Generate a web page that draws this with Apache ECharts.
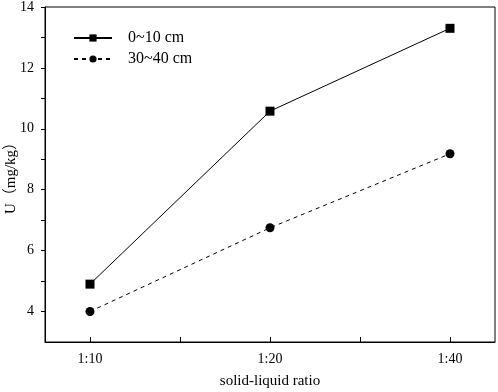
<!DOCTYPE html>
<html>
<head>
<meta charset="utf-8">
<script src="https://cdn.jsdelivr.net/npm/echarts@6/dist/echarts.min.js"></script>
<style>
  html, body { margin: 0; padding: 0; background: #fff; }
  #chart { width: 498px; height: 392px; }
</style>
</head>
<body>
<div id="chart"></div>
<script>
// solid-liquid ratios, plotted at positions 1, 2, 3
const ratios = ['1:10', '1:20', '1:40'];
const seriesNames = ['0~10 cm', '30~40 cm'];
const uShallow = [4.9, 10.58, 13.3];
const uDeep = [4.0, 6.75, 9.18];
const yTickLabels = [4, 6, 8, 10, 12, 14];

const serif = '"Liberation Serif", "Times New Roman", "Noto Sans CJK SC", serif';

const toPoints = (vals) => vals.map((v, i) => [i + 1, v]);

const myChart = echarts.init(document.getElementById('chart'));

const option = {
  animation: false,
  textStyle: { fontFamily: serif, color: '#000' },
  grid: {
    left: 45,
    right: 3,
    top: 7,
    bottom: 50,
    outerBoundsMode: 'none',
    containLabel: false,
    show: true,
    borderColor: '#000',
    borderWidth: 1,
  },
  legend: {
    orient: 'vertical',
    left: 68,
    top: 25,
    itemWidth: 38,
    itemHeight: 9,
    itemGap: 5,
    textStyle: { fontFamily: serif, fontSize: 16, color: '#000', padding: [0, 0, 0, 11] },
    data: seriesNames,
  },
  xAxis: {
    type: 'value',
    min: 0.75,
    max: 3.25,
    name: 'solid-liquid ratio',
    nameLocation: 'middle',
    nameGap: 32,
    nameMoveOverlap: false,
    nameTextStyle: { fontFamily: serif, fontSize: 15, color: '#000' },
    splitLine: { show: false },
    axisLine: { lineStyle: { color: '#000', width: 1 } },
    axisTick: {
      inside: true,
      length: 5,
      customValues: [1, 1.5, 2, 2.5, 3],
      lineStyle: { color: '#000' },
    },
    axisLabel: {
      customValues: [1, 2, 3],
      formatter: (v) => ratios[Math.round(v) - 1],
      fontFamily: serif,
      fontSize: 14,
      color: '#000',
      margin: 10,
    },
  },
  yAxis: {
    type: 'value',
    min: 3,
    max: 14,
    name: 'U（mg/kg）',
    nameLocation: 'middle',
    nameGap: 26,
    nameMoveOverlap: false,
    nameTextStyle: { fontFamily: serif, fontSize: 15, color: '#000' },
    splitLine: { show: false },
    axisLine: { show: true, lineStyle: { color: '#000', width: 1 } },
    axisTick: {
      length: 4,
      customValues: [4, 5, 6, 7, 8, 9, 10, 11, 12, 13, 14],
      lineStyle: { color: '#000' },
    },
    axisLabel: {
      customValues: yTickLabels,
      fontFamily: serif,
      fontSize: 14,
      color: '#000',
      margin: 11,
    },
  },
  series: [
    {
      name: seriesNames[0],
      type: 'line',
      data: toPoints(uShallow),
      symbol: 'rect',
      symbolSize: 9,
      itemStyle: { color: '#000' },
      lineStyle: { color: '#000', width: 1 },
    },
    {
      name: seriesNames[1],
      type: 'line',
      data: toPoints(uDeep),
      symbol: 'circle',
      symbolSize: 9,
      itemStyle: { color: '#000' },
      lineStyle: { color: '#000', width: 1, type: [4, 4] },
    },
  ],
};

myChart.setOption(option);
</script>
</body>
</html>
